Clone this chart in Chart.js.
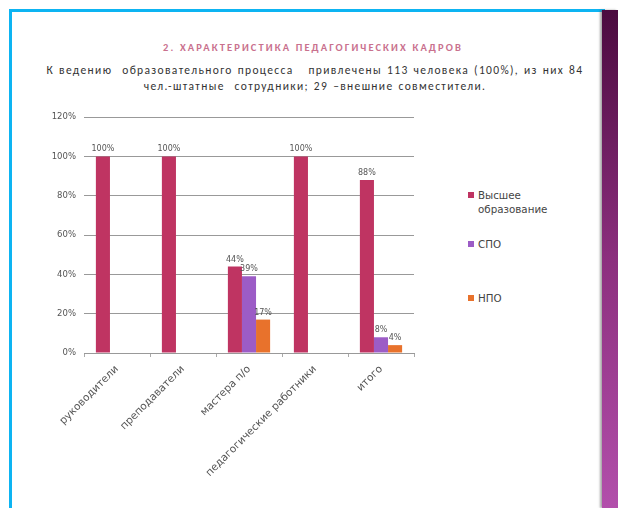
<!DOCTYPE html>
<html>
<head>
<meta charset="utf-8">
<script src="https://cdn.jsdelivr.net/npm/chart.js@4"></script>
<style>
    body { margin:0; width:618px; height:508px; background:#fff; position:relative; overflow:hidden; font-family:Calibri, "Liberation Sans", "DejaVu Sans", sans-serif; }
    .frame { position:absolute; left:9px; top:9px; width:593px; height:520px; border-left:3px solid #0db4f2; border-top:3px solid #0db4f2; }
    .strip { position:absolute; left:602px; top:10px; width:16px; height:498px; background:linear-gradient(#4b0b3f, #8c2f7e 50%, #b24fab); box-shadow:-2px 0 2px rgba(80,80,80,0.5); }
    .title { position:absolute; left:4px; width:618px; top:41px; text-align:center; font-size:10.5px; font-weight:bold; color:#c9718e; letter-spacing:2.1px; }
    .sub { position:absolute; left:18px; width:594px; top:62px; text-align:center; font-size:11.5px; line-height:16px; color:#333; letter-spacing:1.35px; word-spacing:1px; }
    .legend { position:absolute; left:468px; top:188px; font-family:"DejaVu Sans", sans-serif; font-size:10.3px; color:#444; line-height:14px; }
    .legend div { position:relative; padding-left:10px; }
    .legend span { position:absolute; left:0; top:4px; width:6px; height:6px; }
    #wrap { position:absolute; left:39px; top:104px; width:376px; height:379px; }
</style>
</head>
<body>
<div class="frame"></div>
<div class="strip"></div>
<div class="title">2. ХАРАКТЕРИСТИКА ПЕДАГОГИЧЕСКИХ КАДРОВ</div>
<div class="sub">К ведению &nbsp;образовательного процесса &nbsp;&nbsp;привлечены 113 человека (100%), из них 84<br>чел.-штатные &nbsp;сотрудники; 29 –внешние совместители.</div>
<div class="legend" id="legend"></div>
<div id="wrap"><canvas id="chart"></canvas></div>
<script>
const categories = ['руководители', 'преподаватели', 'мастера п/о', 'педагогические работники', 'итого'];
const higher = [100, 100, 44, 100, 88];
const spo = [null, null, 39, null, 8];
const npo = [null, null, 17, null, 4];
const seriesNames = [['Высшее', 'образование'], ['СПО'], ['НПО']];
const colors = ['#bf3462', '#9c5cc6', '#e8722c'];
const yTicks = [0, 20, 40, 60, 80, 100, 120];

// легенда справа
const legendGaps = [0, 21, 40];
document.getElementById('legend').innerHTML = seriesNames.map((n, i) =>
    `<div style="margin-top:${legendGaps[i]}px"><span style="background:${colors[i]}"></span>${n.join('<br>')}</div>`
).join('');

const labelsPlugin = {
    id: 'barLabels',
    afterDatasetsDraw(chart) {
        const ctx = chart.ctx;
        ctx.save();
        ctx.font = '8px "DejaVu Sans", sans-serif';
        ctx.fillStyle = '#555';
        ctx.textAlign = 'center';
        ctx.textBaseline = 'bottom';
        chart.data.datasets.forEach((ds, di) => {
            chart.getDatasetMeta(di).data.forEach((bar, i) => {
                if (ds.data[i] == null) return;
                ctx.fillText(ds.data[i] + '%', bar.x, bar.y - 3);
            });
        });
        ctx.restore();
    }
};

new Chart(document.getElementById('chart'), {
    type: 'bar',
    data: {
        labels: categories,
        datasets: [
            { label: seriesNames[0].join(' '), data: higher, backgroundColor: colors[0] },
            { label: seriesNames[1].join(' '), data: spo, backgroundColor: colors[1] },
            { label: seriesNames[2].join(' '), data: npo, backgroundColor: colors[2] }
        ]
    },
    options: {
        responsive: true,
        maintainAspectRatio: false,
        animation: false,
        datasets: { bar: { categoryPercentage: 0.64, barPercentage: 1 } },
        layout: { padding: { top: 7, right: 1 } },
        plugins: { legend: { display: false }, tooltip: { enabled: false } },
        scales: {
            x: {
                offset: true,
                afterFit: axis => { axis.height = 130; },
                grid: { display: true, drawOnChartArea: false, offset: true, tickLength: 4, color: '#aaa' },
                border: { color: '#999' },
                ticks: { padding: 6, maxRotation: 45, minRotation: 45, color: '#555', font: { size: 10.5, family: '"DejaVu Sans", sans-serif' } }
            },
            y: {
                min: 0, max: 120,
                afterBuildTicks: axis => { axis.ticks = yTicks.map(v => ({ value: v })); },
                afterFit: axis => { axis.width = 45; },
                grid: { color: '#999', drawTicks: false },
                border: { display: false },
                ticks: { padding: 8, color: '#555', font: { size: 8.5, family: '"DejaVu Sans", sans-serif' }, callback: v => v + '%' }
            }
        }
    },
    plugins: [labelsPlugin]
});
</script>
</body>
</html>
